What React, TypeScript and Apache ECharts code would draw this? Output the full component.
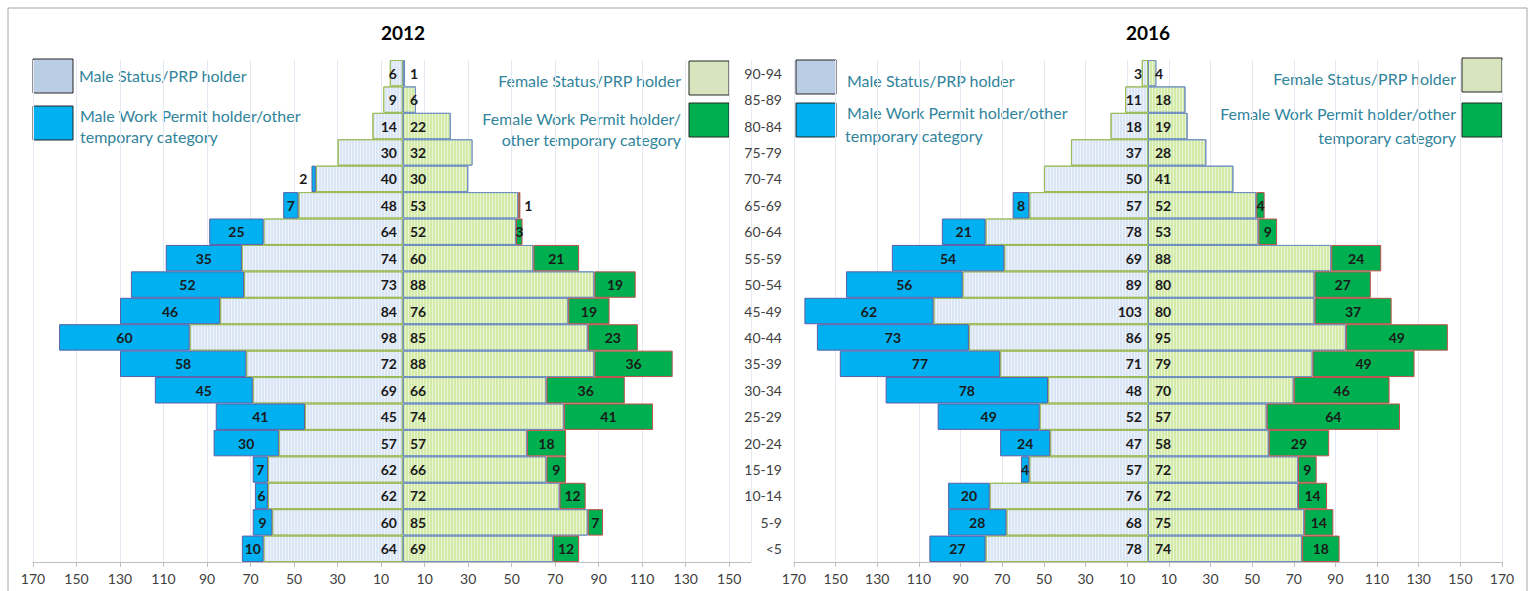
import React, { useEffect, useRef } from 'react';
import * as echarts from 'echarts';

const ageGroups = ['90-94', '85-89', '80-84', '75-79', '70-74', '65-69', '60-64', '55-59', '50-54', '45-49', '40-44', '35-39', '30-34', '25-29', '20-24', '15-19', '10-14', '5-9', '<5'];

const male2012Status = [6, 9, 14, 30, 40, 48, 64, 74, 73, 84, 98, 72, 69, 45, 57, 62, 62, 60, 64];
const male2012Temp = [null, null, null, null, 2, 7, 25, 35, 52, 46, 60, 58, 45, 41, 30, 7, 6, 9, 10];
const female2012Status = [1, 6, 22, 32, 30, 53, 52, 60, 88, 76, 85, 88, 66, 74, 57, 66, 72, 85, 69];
const female2012Temp = [null, null, null, null, null, 1, 3, 21, 19, 19, 23, 36, 36, 41, 18, 9, 12, 7, 12];

const male2016Status = [3, 11, 18, 37, 50, 57, 78, 69, 89, 103, 86, 71, 48, 52, 47, 57, 76, 68, 78];
const male2016Temp = [null, null, null, null, null, 8, 21, 54, 56, 62, 73, 77, 78, 49, 24, 4, 20, 28, 27];
const female2016Status = [4, 18, 19, 28, 41, 52, 53, 88, 80, 80, 95, 79, 70, 57, 58, 72, 72, 75, 74];
const female2016Temp = [null, null, null, null, null, 4, 9, 24, 27, 37, 49, 49, 46, 64, 29, 9, 14, 14, 18];

const years = ['2012', '2016'];
const axisMin = -170;
const axisMax = [160, 170];
const axisStep = 20;

const legendMaleStatus = 'Male Status/PRP holder';
const legendMaleTemp = ['Male Work Permit holder/other', 'temporary category'];
const legendFemaleStatus = 'Female Status/PRP holder';
const legendFemaleTemp2012 = ['Female Work Permit holder/', 'other temporary category'];
const legendFemaleTemp2016 = ['Female Work Permit holder/other', 'temporary category'];

const FONT = 'Lato, "Open Sans", sans-serif';

export default function App() {
  const ref = useRef<HTMLDivElement>(null);
  useEffect(() => {
    document.body.style.margin = '0';
    const chart = echarts.init(ref.current!, null, { renderer: 'svg' });

    const labelBase = {
      show: true,
      color: '#1a1a1a',
      fontWeight: 'bold',
      fontSize: 14,
      fontFamily: FONT,
      formatter: (p: any) => (p.value == null ? '' : String(Math.abs(p.value))),
    };

    const maleStatusStyle = {
      color: '#dae5f5',
      borderColor: '#9bbb59',
      borderWidth: 1,
      decal: { symbol: 'rect', symbolSize: 1, color: 'rgba(255,255,255,0.55)', dashArrayX: [1, 2], dashArrayY: [4, 0], rotation: 0 },
    };
    const femaleStatusStyle = {
      color: '#d3eaa9',
      borderColor: '#6f8fc0',
      borderWidth: 1,
      decal: { symbol: 'rect', symbolSize: 1, color: 'rgba(255,255,255,0.5)', dashArrayX: [1, 2], dashArrayY: [4, 0], rotation: 0 },
    };
    const maleTempStyle = { color: '#00b0f0', borderColor: '#5a5fa8', borderWidth: 1 };
    const femaleTempStyle = { color: '#00b050', borderColor: '#c0504d', borderWidth: 1 };

    const sets = [
      [male2012Status, male2012Temp, female2012Status, female2012Temp],
      [male2016Status, male2016Temp, female2016Status, female2016Temp],
    ];

    const common = { type: 'bar', barCategoryGap: 0, barGap: '-100%' };
    const series: any[] = [];
    sets.forEach((s, g) => {
      const [ms, mt, fs, ft] = s;
      series.push({
        ...common, name: 'Male Status/PRP holder', xAxisIndex: g, yAxisIndex: g, stack: 'male' + g,
        data: ms.map((v) => (v == null ? null : -v)),
        itemStyle: maleStatusStyle,
        label: { ...labelBase, position: 'insideRight', distance: 6 },
      });
      series.push({
        ...common, name: 'Male Work Permit', xAxisIndex: g, yAxisIndex: g, stack: 'male' + g,
        data: mt.map((v) => (v == null ? null : v <= 2 ? { value: -v, label: { position: 'left', distance: 4 } } : -v)),
        itemStyle: maleTempStyle,
        label: { ...labelBase, position: 'inside' },
      });
      series.push({
        ...common, name: 'Female Status/PRP holder', xAxisIndex: g, yAxisIndex: g, stack: 'female' + g,
        data: fs.slice(),
        itemStyle: femaleStatusStyle,
        label: { ...labelBase, position: 'insideLeft', distance: 7 },
      });
      series.push({
        ...common, name: 'Female Work Permit', xAxisIndex: g, yAxisIndex: g, stack: 'female' + g,
        data: ft.map((v) => (v == null ? null : v <= 2 ? { value: v, label: { position: 'right', distance: 4 } } : v)),
        itemStyle: femaleTempStyle,
        label: { ...labelBase, position: 'inside' },
      });
    });

    const grids = [
      { left: 33, width: 718, top: 60, height: 502 },
      { left: 794, width: 708, top: 60, height: 502 },
    ];

    const xAxes = grids.map((_, g) => ({
      type: 'value', gridIndex: g, min: axisMin, max: axisMax[g], interval: axisStep,
      axisLine: { show: true, lineStyle: { color: '#bfbfbf', width: 1 } },
      axisTick: { show: true, length: 5, lineStyle: { color: '#bfbfbf' } },
      axisLabel: { color: '#404040', fontSize: 14, fontFamily: FONT, margin: 9, formatter: (v: number) => String(Math.abs(v)) },
      splitLine: { show: true, lineStyle: { color: '#e3e8f2', width: 1 } },
    }));

    const yAxes = grids.map((_, g) => ({
      type: 'category', gridIndex: g, data: ageGroups, inverse: true,
      axisLine: { show: false }, axisTick: { show: false },
      axisLabel: { show: g === 1, color: '#404040', fontSize: 14, fontFamily: FONT, margin: 12 },
      splitLine: { show: false },
    }));

    const legendText = (text: string, x: number, y: number, align: string) => ({
      type: 'text', silent: true,
      style: { text, x, y, fill: '#31849b', font: '16px ' + FONT, textAlign: align, textVerticalAlign: 'middle' },
    });
    const box = (x: number, y: number, fill: string) => ({
      type: 'rect', silent: true,
      shape: { x, y, width: 40, height: 34 },
      style: { fill, stroke: '#262626', lineWidth: 1 },
    });

    const graphic: any[] = [
      { type: 'rect', silent: true, shape: { x: 8, y: 8, width: 1519, height: 600 }, style: { fill: 'none', stroke: '#a6a6a6', lineWidth: 1 } },
      { type: 'text', silent: true, style: { text: years[0], x: 403, y: 32, fill: '#000', font: 'bold 19px ' + FONT, textAlign: 'center', textVerticalAlign: 'middle' } },
      { type: 'text', silent: true, style: { text: years[1], x: 1148, y: 32, fill: '#000', font: 'bold 19px ' + FONT, textAlign: 'center', textVerticalAlign: 'middle' } },
      // 2012 legends
      box(33, 59, '#b9cde5'),
      legendText(legendMaleStatus, 79, 75, 'left'),
      box(33, 106, '#00b0f0'),
      legendText(legendMaleTemp[0], 80, 115, 'left'),
      legendText(legendMaleTemp[1], 80, 136, 'left'),
      box(689, 61, '#d7e4bd'),
      legendText(legendFemaleStatus, 681, 80, 'right'),
      box(689, 103, '#00b050'),
      legendText(legendFemaleTemp2012[0], 681, 118, 'right'),
      legendText(legendFemaleTemp2012[1], 681, 139, 'right'),
      // 2016 legends
      box(796, 60, '#b9cde5'),
      legendText(legendMaleStatus, 847, 80, 'left'),
      box(796, 103, '#00b0f0'),
      legendText(legendMaleTemp[0], 847, 112, 'left'),
      legendText(legendMaleTemp[1], 845, 135, 'left'),
      box(1462, 58, '#d7e4bd'),
      legendText(legendFemaleStatus, 1456, 78, 'right'),
      box(1462, 103, '#00b050'),
      legendText(legendFemaleTemp2016[0], 1456, 113, 'right'),
      legendText(legendFemaleTemp2016[1], 1456, 137, 'right'),
    ];

    chart.setOption({
      animation: false,
      backgroundColor: '#ffffff',
      grid: grids,
      xAxis: xAxes,
      yAxis: yAxes,
      series,
      graphic,
    });
    return () => chart.dispose();
  }, []);
  return <div ref={ref} style={{ width: 1529, height: 591 }} />;
}
